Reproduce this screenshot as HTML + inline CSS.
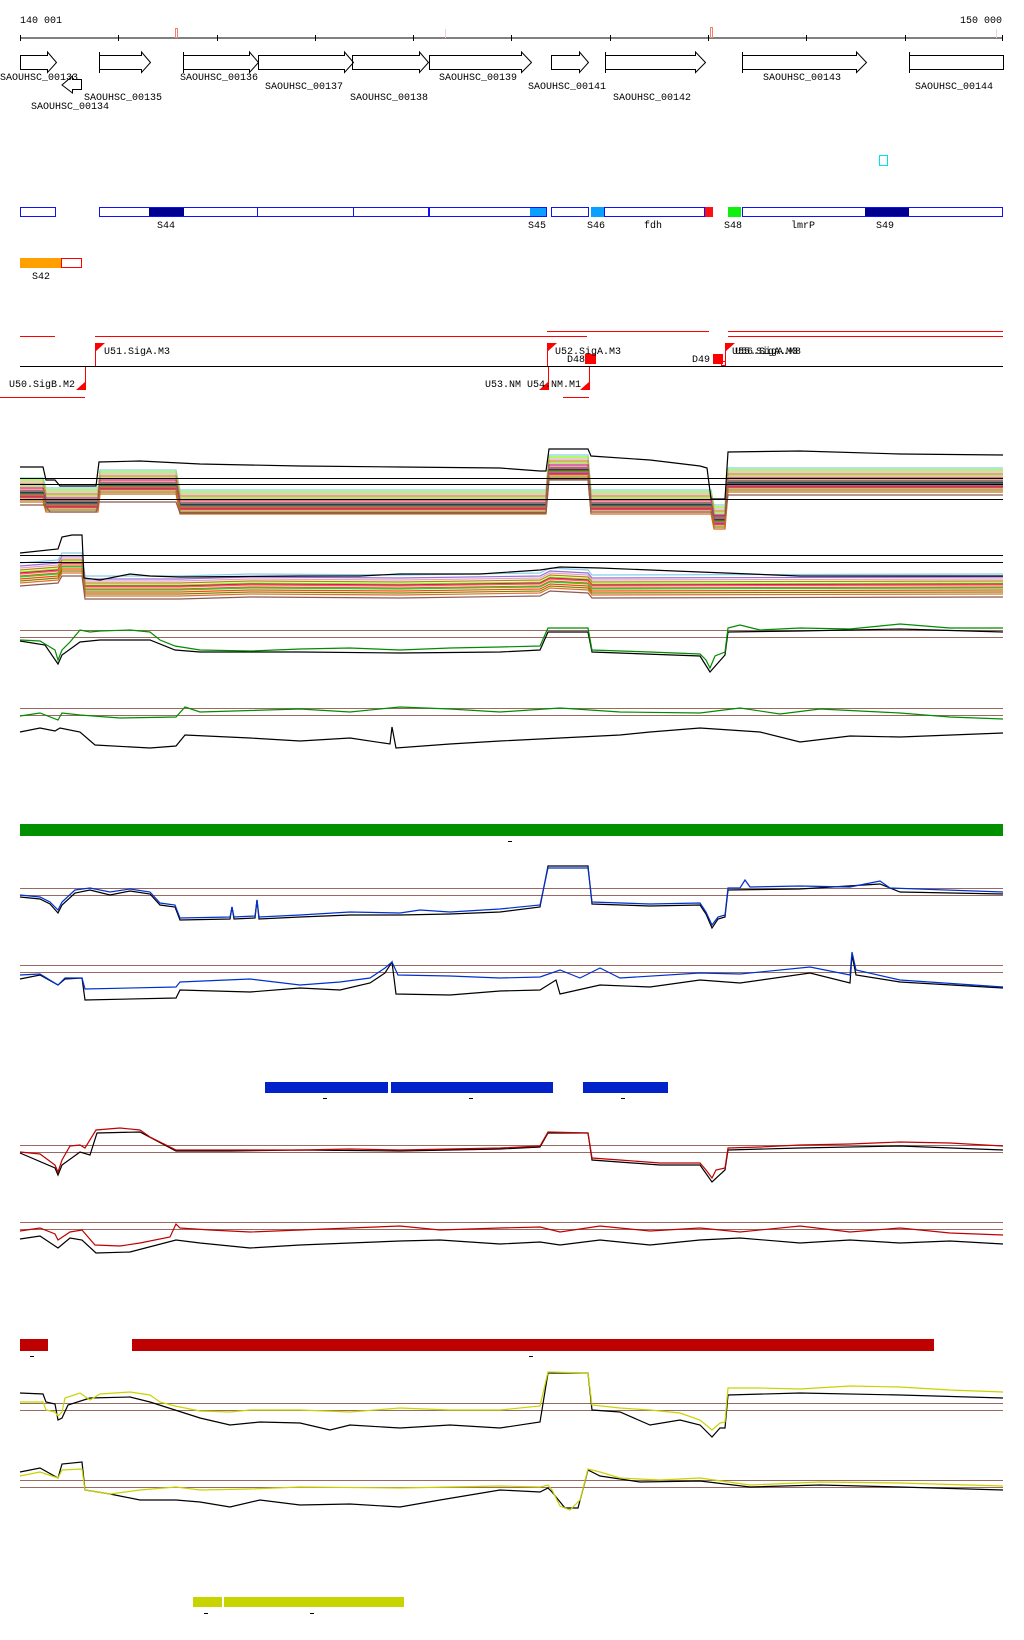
<!DOCTYPE html>
<html><head><meta charset="utf-8"><style>
html,body{margin:0;padding:0;background:#fff}
svg{display:block}
text{font-family:"Liberation Mono",monospace;font-size:10px;fill:#000}
.t{fill:none;stroke-width:1.2}
</style></head><body>
<svg width="1024" height="1640" viewBox="0 0 1024 1640" xmlns="http://www.w3.org/2000/svg">
<defs>
<polyline id="M" fill="none" points="20,478 43,478 46,488 98,488 100,470 176,470 180,490 546,490 549,455 588,455 591,490 711,490 714,505 725,505 728,468 1003,468"/>
<polyline id="N" fill="none" points="20,565 58,562 62,555 82,555 85,578 180,578 250,576 400,577 540,575 550,570 588,572 592,577 1003,576"/>
</defs>
<!-- axis -->
<text x="20" y="23">140 001</text>
<text x="960" y="23">150 000</text>
<line x1="20" y1="38" x2="1003" y2="38" stroke="#000"/>
<g stroke="#000">
<line x1="20.5" y1="35" x2="20.5" y2="41"/><line x1="118.5" y1="35" x2="118.5" y2="41"/><line x1="217.5" y1="35" x2="217.5" y2="41"/><line x1="315.5" y1="35" x2="315.5" y2="41"/><line x1="413.5" y1="35" x2="413.5" y2="41"/><line x1="511.5" y1="35" x2="511.5" y2="41"/><line x1="610.5" y1="35" x2="610.5" y2="41"/><line x1="708.5" y1="35" x2="708.5" y2="41"/><line x1="806.5" y1="35" x2="806.5" y2="41"/><line x1="905.5" y1="35" x2="905.5" y2="41"/><line x1="1002.5" y1="35" x2="1002.5" y2="41"/>
</g>
<rect x="175.5" y="28.5" width="2" height="9" fill="none" stroke="#f08070"/>
<rect x="445" y="29" width="1" height="9" fill="#f8d0c8"/>
<rect x="710.5" y="27.5" width="2" height="10" fill="none" stroke="#f08070"/>
<rect x="996" y="29" width="1" height="9" fill="#f8d0c8"/>
<!-- genes -->
<g fill="none" stroke="#000">
<path d="M20.5,55.5H47.5V52L56.5,62.5L47.5,72.5V69.5H20.5Z"/>
<path d="M81.5,79.5H72.5V76L62,85L72.5,93V89.5H81.5Z"/>
<path d="M99.5,55.5H141.5V52L150.5,62.5L141.5,72.5V69.5H99.5Z"/>
<path d="M183.5,55.5H249.5V52L258.5,62.5L249.5,72.5V69.5H183.5Z"/>
<path d="M258.5,55.5H344.5V52L353.5,62.5L344.5,72.5V69.5H258.5Z"/>
<path d="M352.5,55.5H419.5V52L428.5,62.5L419.5,72.5V69.5H352.5Z"/>
<path d="M429.5,55.5H521.5V52L531.5,62.5L521.5,72.5V69.5H429.5Z"/>
<path d="M551.5,55.5H579.5V52L588.5,62.5L579.5,72.5V69.5H551.5Z"/>
<path d="M605.5,55.5H695.5V52L705.5,62.5L695.5,72.5V69.5H605.5Z"/>
<path d="M742.5,55.5H856.5V52L866.5,62.5L856.5,72.5V69.5H742.5Z"/>
<path d="M909.5,55.5H1003.5V69.5H909.5Z"/>
<line x1="183.5" y1="52" x2="183.5" y2="73"/><line x1="742.5" y1="52" x2="742.5" y2="73"/><line x1="909.5" y1="52" x2="909.5" y2="73"/><line x1="605.5" y1="52" x2="605.5" y2="73"/><line x1="99.5" y1="52" x2="99.5" y2="73"/>
</g>
<text x="0" y="80">SAOUHSC_00133</text>
<text x="31" y="109">SAOUHSC_00134</text>
<text x="84" y="100">SAOUHSC_00135</text>
<text x="180" y="80">SAOUHSC_00136</text>
<text x="265" y="89">SAOUHSC_00137</text>
<text x="350" y="100">SAOUHSC_00138</text>
<text x="439" y="80">SAOUHSC_00139</text>
<text x="528" y="89">SAOUHSC_00141</text>
<text x="613" y="100">SAOUHSC_00142</text>
<text x="763" y="80">SAOUHSC_00143</text>
<text x="915" y="89">SAOUHSC_00144</text>
<rect x="879.5" y="155.5" width="8" height="10" fill="none" stroke="#00e0f0"/>
<!-- blue boxes -->
<rect x="149" y="207" width="35" height="10" fill="#000090"/>
<rect x="530" y="207" width="17" height="10" fill="#0aa0ff"/>
<rect x="591" y="207" width="13" height="10" fill="#0aa0ff"/>
<rect x="704" y="207" width="9" height="10" fill="#ff1010"/>
<rect x="728" y="207" width="13" height="10" fill="#10f010"/>
<rect x="865" y="207" width="44" height="10" fill="#000090"/>
<g fill="none" stroke="#1010ff">
<rect x="20.5" y="207.5" width="35" height="9"/>
<rect x="99.5" y="207.5" width="158" height="9"/>
<rect x="257.5" y="207.5" width="96" height="9"/>
<rect x="353.5" y="207.5" width="75" height="9"/>
<rect x="429.5" y="207.5" width="117" height="9"/>
<rect x="551.5" y="207.5" width="37" height="9"/>
<rect x="604.5" y="207.5" width="100" height="9"/>
<rect x="742.5" y="207.5" width="260" height="9"/>
</g>
<text x="157" y="228">S44</text><text x="528" y="228">S45</text><text x="587" y="228">S46</text>
<text x="644" y="228">fdh</text><text x="724" y="228">S48</text><text x="791" y="228">lmrP</text><text x="876" y="228">S49</text>
<rect x="20" y="258" width="41" height="10" fill="#ffa000"/>
<rect x="61.5" y="258.5" width="20" height="9" fill="none" stroke="#f00"/>
<text x="32" y="279">S42</text>
<!-- promoters -->
<g stroke="#f00">
<line x1="20" y1="336.5" x2="55" y2="336.5"/><line x1="95" y1="336.5" x2="587" y2="336.5"/>
<line x1="547" y1="331.5" x2="709" y2="331.5"/><line x1="728" y1="331.5" x2="1003" y2="331.5"/><line x1="728" y1="336.5" x2="1003" y2="336.5"/>
<line x1="0" y1="397.5" x2="85" y2="397.5"/><line x1="563" y1="397.5" x2="589" y2="397.5"/>
<line x1="95.5" y1="343" x2="95.5" y2="366"/><line x1="547.5" y1="343" x2="547.5" y2="366"/><line x1="725.5" y1="343" x2="725.5" y2="366"/>
<line x1="85.5" y1="366" x2="85.5" y2="390"/><line x1="548.5" y1="366" x2="548.5" y2="390"/><line x1="589.5" y1="366" x2="589.5" y2="390"/>
</g>
<line x1="20" y1="366.5" x2="1003" y2="366.5" stroke="#000"/>
<g fill="#f00">
<polygon points="95,343 105,343 95,352"/><polygon points="547,343 557,343 547,352"/><polygon points="725,343 735,343 725,352"/>
<polygon points="86,381 86,390 76,390"/><polygon points="549,381 549,390 539,390"/><polygon points="590,381 590,390 580,390"/>
<rect x="585" y="354" width="11" height="10"/><rect x="713" y="354" width="10" height="10"/>
</g>
<rect x="721.5" y="361.5" width="4" height="4" fill="none" stroke="#f00"/>
<text x="104" y="354">U51.SigA.M3</text><text x="555" y="354">U52.SigA.M3</text>
<text x="567" y="362">D48</text><text x="692" y="362">D49</text>
<text x="732" y="354">U55.SigA.M3</text><text x="735" y="354">U56.SigA.M8</text>
<text x="9" y="387">U50.SigB.M2</text><text x="485" y="387">U53.NM</text><text x="527" y="387">U54.NM.M1</text>
<!-- group1 -->
<g class="t" stroke-width="1">
<use href="#M" stroke="#87ceeb" transform="translate(0,0)"/>
<use href="#M" stroke="#7cfc00" transform="translate(0,2)"/>
<use href="#M" stroke="#e6a0c4" transform="translate(0,4)"/>
<use href="#M" stroke="#b8860b" transform="translate(0,6)"/>
<use href="#M" stroke="#9acd32" transform="translate(0,8)"/>
<use href="#M" stroke="#c71585" transform="translate(0,10)"/>
<use href="#M" stroke="#ff6347" transform="translate(0,12)"/>
<use href="#M" stroke="#4682b4" transform="translate(0,13)"/>
<use href="#M" stroke="#d2691e" transform="translate(0,14)"/>
<use href="#M" stroke="#000080" transform="translate(0,15)"/>
<use href="#M" stroke="#32cd32" transform="translate(0,16)"/>
<use href="#M" stroke="#ff4500" transform="translate(0,17)"/>
<use href="#M" stroke="#9370db" transform="translate(0,18)"/>
<use href="#M" stroke="#dc143c" transform="translate(0,19)"/>
<use href="#M" stroke="#e07030" transform="translate(0,20)"/>
<use href="#M" stroke="#808000" transform="translate(0,22)"/>
<use href="#M" stroke="#d2691e" transform="translate(0,24)"/>
</g>
<polyline class="t" stroke="#8b5a50" stroke-width="1" points="20,505 45,505 50,512 96,512 99,502 176,502 180,513 546,513 549,480 588,480 591,512 711,512 714,516 725,516 728,495 1003,495"/>
<polyline class="t" stroke="#000" stroke-width="1" points="20,467 43,467 46,480 55,480 60,486 96,486 99,462 140,461 200,464 300,466 400,467 500,468 540,471 546,471 549,449 588,449 591,456 650,460 700,466 707,468 711,499 725,499 728,452 800,451 900,454 1003,455"/>
<g stroke="#000"><line x1="20" y1="478.5" x2="1003" y2="478.5"/><line x1="20" y1="484.5" x2="1003" y2="484.5"/><line x1="20" y1="499.5" x2="1003" y2="499.5"/></g>
<!-- group2 -->
<g class="t" stroke-width="1">
<use href="#N" stroke="#87ceeb" transform="translate(0,-2)"/>
<use href="#N" stroke="#9370db" transform="translate(0,1)"/>
<use href="#N" stroke="#e6a0c4" transform="translate(0,3)"/>
<use href="#N" stroke="#b8860b" transform="translate(0,5)"/>
<use href="#N" stroke="#7cfc00" transform="translate(0,7)"/>
<use href="#N" stroke="#c71585" transform="translate(0,8)"/>
<use href="#N" stroke="#ff6347" transform="translate(0,9)"/>
<use href="#N" stroke="#d2691e" transform="translate(0,11)"/>
<use href="#N" stroke="#32cd32" transform="translate(0,12)"/>
<use href="#N" stroke="#ff4500" transform="translate(0,14)"/>
<use href="#N" stroke="#808000" transform="translate(0,16)"/>
<use href="#N" stroke="#e07030" transform="translate(0,18)"/>
<use href="#N" stroke="#8b5a50" transform="translate(0,21)"/>
</g>
<polyline class="t" stroke="#000" stroke-width="1" points="20,553 58,549 62,537 72,535 82,535 84,578 100,580 130,574 150,576 180,577 300,576 360,576 400,574 480,574 540,570 560,567 600,568 700,572 800,576 1003,576"/>
<g stroke="#000"><line x1="20" y1="555.5" x2="1003" y2="555.5"/><line x1="20" y1="562.5" x2="1003" y2="562.5"/></g>
<!-- brown ref lines -->
<g stroke="#9a6a60">
<line x1="20" y1="630.5" x2="1003" y2="630.5"/><line x1="20" y1="637.5" x2="1003" y2="637.5"/>
<line x1="20" y1="708.5" x2="1003" y2="708.5"/><line x1="20" y1="715.5" x2="1003" y2="715.5"/>
<line x1="20" y1="888.5" x2="1003" y2="888.5"/><line x1="20" y1="895.5" x2="1003" y2="895.5"/>
<line x1="20" y1="965.5" x2="1003" y2="965.5"/><line x1="20" y1="972.5" x2="1003" y2="972.5"/>
<line x1="20" y1="1145.5" x2="1003" y2="1145.5"/><line x1="20" y1="1152.5" x2="1003" y2="1152.5"/>
<line x1="20" y1="1222.5" x2="1003" y2="1222.5"/><line x1="20" y1="1229.5" x2="1003" y2="1229.5"/>
<line x1="20" y1="1403.5" x2="1003" y2="1403.5"/><line x1="20" y1="1410.5" x2="1003" y2="1410.5"/>
<line x1="20" y1="1480.5" x2="1003" y2="1480.5"/><line x1="20" y1="1487.5" x2="1003" y2="1487.5"/>
</g>
<!-- group3 -->
<polyline class="t" stroke="#000" points="20,641 45,645 58,664 62,655 80,642 100,640 150,640 175,650 200,652 300,652 400,653 500,652 540,650 548,632 588,632 592,652 700,656 710,672 725,655 728,632 800,631 900,629 1003,632"/>
<polyline class="t" stroke="#008c00" points="20,640 40,641 45,644 55,650 58,660 62,650 70,642 80,630 90,632 100,631 130,630 150,632 160,640 175,646 200,650 250,651 300,649 350,648 400,650 450,648 500,647 540,646 548,628 588,628 592,650 650,652 700,654 706,660 710,668 715,656 725,652 728,628 740,625 760,630 800,628 850,629 880,626 900,624 950,628 1003,628"/>
<!-- group4 -->
<polyline class="t" stroke="#000" points="20,732 40,728 55,731 60,728 80,732 95,745 150,748 176,746 185,735 250,738 300,741 350,738 390,744 392,727 396,748 450,744 500,741 560,738 620,735 650,732 700,728 760,732 800,742 850,736 900,737 1003,733"/>
<polyline class="t" stroke="#008c00" points="20,716 40,713 58,720 62,713 80,715 120,718 176,717 185,707 200,712 300,709 350,712 400,707 450,709 500,712 560,708 620,712 700,713 740,708 780,714 820,709 900,713 950,717 1003,719"/>
<rect x="20" y="824" width="983" height="12" fill="#009000"/>
<rect x="508" y="841" width="4" height="1" fill="#000"/>
<!-- group5 -->
<polyline class="t" stroke="#000" points="20,897 40,899 50,904 58,913 62,905 75,893 90,890 110,895 130,891 150,894 160,905 175,907 180,920 230,919 232,907 234,919 255,918 257,900 259,919 300,917 350,915 400,915 450,914 500,912 540,907 548,866 588,866 592,904 650,906 700,905 706,914 712,928 718,919 725,917 728,890 800,889 880,884 900,892 1003,894"/>
<polyline class="t" stroke="#0030d0" points="20,895 40,897 50,902 58,910 62,902 75,890 90,888 110,892 130,889 150,892 160,903 175,905 180,918 230,917 232,907 234,917 255,916 257,900 259,917 300,915 350,912 400,913 420,910 450,912 500,909 540,905 548,868 588,868 592,902 650,904 700,903 706,912 712,925 718,917 725,915 728,888 740,888 745,880 750,887 800,886 850,887 880,881 890,888 1003,892"/>
<!-- group6 -->
<polyline class="t" stroke="#000" points="20,979 40,975 58,985 65,979 82,978 85,1000 176,998 180,990 250,992 300,988 340,990 370,983 385,973 392,962 396,994 450,995 500,991 540,990 556,980 560,994 600,985 650,987 700,980 740,983 810,973 850,983 852,955 856,975 900,982 1003,988"/>
<polyline class="t" stroke="#0030d0" points="20,975 40,974 58,985 65,978 82,978 85,989 176,987 180,982 250,979 300,985 340,982 370,978 385,968 392,962 398,975 450,976 500,978 540,977 560,970 580,978 600,968 620,978 700,973 740,974 810,967 850,975 852,952 856,970 900,980 1003,987"/>
<g fill="#0022c8"><rect x="265" y="1082" width="123" height="11"/><rect x="391" y="1082" width="162" height="11"/><rect x="583" y="1082" width="85" height="11"/></g>
<g fill="#000"><rect x="323" y="1098" width="4" height="1"/><rect x="469" y="1098" width="4" height="1"/><rect x="621" y="1098" width="4" height="1"/></g>
<!-- group7 -->
<polyline class="t" stroke="#000" points="20,1153 55,1168 58,1175 62,1165 80,1152 90,1155 97,1133 140,1132 176,1151 230,1151 300,1150 400,1151 500,1149 540,1147 548,1133 588,1133 592,1160 660,1165 700,1165 712,1182 725,1170 728,1150 800,1148 900,1146 1003,1150"/>
<polyline class="t" stroke="#c00000" points="20,1152 40,1154 55,1165 58,1172 62,1160 70,1146 80,1145 85,1148 96,1130 120,1128 140,1130 150,1137 160,1142 176,1150 230,1150 300,1150 350,1149 400,1150 500,1148 540,1146 548,1132 588,1133 592,1158 620,1160 660,1163 700,1163 706,1170 712,1178 716,1170 725,1168 728,1148 760,1147 800,1145 850,1144 900,1142 950,1143 1003,1146"/>
<!-- group8 -->
<polyline class="t" stroke="#000" points="20,1239 40,1236 58,1248 70,1238 82,1240 96,1253 130,1252 176,1240 200,1243 250,1248 300,1245 350,1243 400,1241 440,1240 500,1244 540,1242 560,1245 600,1240 650,1245 700,1240 740,1238 800,1243 850,1240 900,1243 950,1241 1003,1244"/>
<polyline class="t" stroke="#c00000" points="20,1231 40,1228 55,1234 58,1240 70,1232 82,1230 95,1245 120,1246 140,1243 170,1237 176,1224 180,1228 210,1230 250,1232 300,1230 350,1228 400,1226 440,1230 500,1228 540,1227 560,1232 600,1226 650,1231 700,1228 740,1232 800,1226 850,1232 900,1228 950,1233 1003,1235"/>
<g fill="#bf0000"><rect x="20" y="1339" width="28" height="12"/><rect x="132" y="1339" width="802" height="12"/></g>
<g fill="#000"><rect x="30" y="1356" width="4" height="1"/><rect x="529" y="1356" width="4" height="1"/></g>
<!-- group9 -->
<polyline class="t" stroke="#000" points="20,1393 43,1394 46,1402 55,1404 58,1420 62,1418 68,1405 90,1398 130,1397 150,1402 175,1410 200,1418 230,1425 260,1422 300,1423 330,1430 350,1425 400,1428 450,1425 500,1428 540,1422 548,1373 588,1373 592,1410 620,1412 650,1425 680,1420 700,1425 712,1437 720,1428 725,1428 728,1395 800,1393 900,1395 1003,1398"/>
<polyline class="t" stroke="#c8d400" points="20,1402 43,1402 46,1410 55,1412 58,1416 62,1412 65,1398 80,1393 90,1400 100,1394 130,1392 150,1395 160,1402 175,1406 200,1411 230,1412 250,1410 300,1410 350,1412 400,1408 450,1410 500,1410 540,1406 548,1372 588,1373 592,1405 620,1408 650,1410 680,1413 700,1420 712,1430 720,1423 725,1422 728,1388 760,1388 800,1389 850,1386 900,1387 950,1390 1003,1392"/>
<!-- group10 -->
<polyline class="t" stroke="#000" points="20,1472 40,1468 58,1478 62,1464 82,1462 85,1490 110,1494 140,1500 176,1500 200,1502 230,1507 260,1500 300,1505 350,1504 400,1507 440,1500 500,1490 540,1492 548,1488 552,1492 565,1508 578,1508 588,1470 600,1476 640,1482 700,1481 750,1487 820,1485 900,1487 1003,1490"/>
<polyline class="t" stroke="#c8d400" points="20,1476 40,1472 58,1478 62,1470 82,1469 85,1490 110,1494 140,1490 176,1487 200,1490 250,1489 300,1487 400,1488 500,1486 540,1487 548,1485 552,1490 560,1506 570,1510 580,1500 588,1469 600,1472 620,1478 660,1480 700,1478 750,1485 820,1482 900,1483 1003,1486"/>
<g fill="#c8d400"><rect x="193" y="1597" width="29" height="10"/><rect x="224" y="1597" width="180" height="10"/></g>
<g fill="#000"><rect x="204" y="1613" width="4" height="1"/><rect x="310" y="1613" width="4" height="1"/></g>
</svg>
</body></html>
